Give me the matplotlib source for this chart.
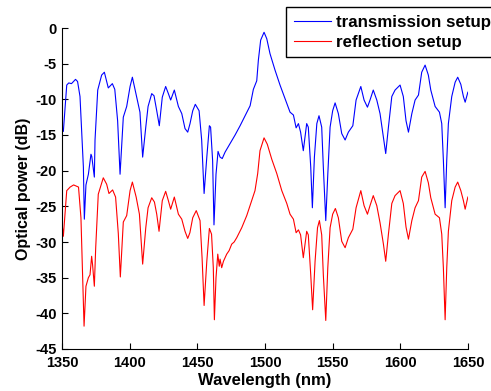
import matplotlib
matplotlib.use("Agg")
import matplotlib.pyplot as plt

# -----------------------------
# Data
# -----------------------------
wl_trans = [1350, 1351, 1353.5, 1355, 1357, 1360, 1361.5, 1363.3, 1365.8, 1366.5,
            1367.7, 1369.5, 1371.4, 1372, 1373.9, 1374.4, 1376.4, 1379.3, 1381.3, 1384.2,
            1387.2, 1389, 1391.1, 1392.9, 1395.3, 1397.8, 1400.3, 1402, 1405.2, 1407.6,
            1409.6, 1411.9, 1413.6, 1416.3, 1418, 1420, 1421.9, 1424.1, 1426.6, 1428.6,
            1430.3, 1433, 1436, 1438.5, 1440.9, 1442.9, 1444.6, 1446.6, 1448.5, 1451.3,
            1453.2, 1455, 1457, 1458.9, 1459.8, 1461.3, 1462.3, 1463.8, 1465.3, 1466.8,
            1468.4, 1470.5, 1474.2, 1477.9, 1481.6, 1485.3, 1489, 1491.4, 1493.9, 1495.1,
            1496.8, 1499.3, 1501.3, 1503.7, 1507.4, 1511.1, 1514.8, 1518.5, 1521, 1523,
            1524.7, 1526.3, 1528.3, 1530.8, 1532, 1533.8, 1535, 1536.5, 1538.3, 1539.9,
            1541.9, 1543.1, 1544.9, 1546.4, 1548.1, 1550, 1551.8, 1554.2, 1556.7, 1559.2,
            1561.6, 1564.9, 1567.3, 1570.8, 1573.2, 1575.7, 1577.6, 1580, 1582.6, 1585,
            1587.5, 1589.2, 1591.2, 1593.7, 1596.1, 1599.8, 1602.2, 1604.2, 1606, 1608.5,
            1610.9, 1613.4, 1615.8, 1618.3, 1620.7, 1622.5, 1625.7, 1628.9, 1630.6, 1631.8,
            1633.1, 1634.3, 1635.5, 1638, 1640.5, 1642.4, 1644.7, 1646.6, 1647.9, 1649.9]
p_trans = [-14.1, -14.5, -8.0, -7.7, -7.8, -7.2, -7.5, -9.6, -19.5, -26.8,
           -22, -20.5, -17.7, -18, -20.9, -15.7, -8.7, -6.6, -6.2, -8.4,
           -7.8, -8.6, -13, -20.5, -12.5, -11, -8.2, -6.9, -9.7, -11.8,
           -18.1, -13.9, -11, -9.2, -9.5, -11.6, -13.7, -9.7, -8.2, -9.2,
           -10.1, -8.7, -11, -12, -14.1, -14.6, -13.4, -11.6, -10.7, -11.6,
           -15.7, -23.2, -18.1, -13.7, -13.9, -18.6, -27.6, -20.5, -17.3, -18.1,
           -18.3, -17.4, -16.2, -15, -13.7, -12.3, -10.9, -8.6, -7.4, -4.5,
           -1.7, -0.6, -1.5, -3.6, -5.9, -8.0, -9.9, -11.8, -12.2, -14,
           -13.4, -14.6, -17.2, -13.4, -13.9, -19.5, -25.2, -18.1, -13.4, -12.3,
           -13.9, -19.5, -27, -20.5, -13.9, -11.6, -10.5, -12, -14.8, -15.7,
           -14.6, -13.7, -10.1, -8.2, -10.1, -11.1, -10.1, -8.7, -10.1, -12,
           -15.3, -17.6, -13.9, -9.6, -8.7, -8, -9.6, -13, -14.6, -12,
           -10.1, -9.4, -6.2, -5.2, -6.6, -8.7, -11, -11.8, -13.4, -18.5,
           -25.2, -18.5, -13.4, -9.6, -7.6, -6.9, -7.9, -9.6, -10.4, -9]

wl_refl = [1350, 1351, 1353.5, 1356, 1358.6, 1362.2, 1364, 1365.3, 1366.3, 1367.7,
           1369.5, 1370.7, 1371.9, 1372.6, 1373.9, 1374.9, 1376.8, 1380.5, 1383, 1384.7,
           1387.4, 1389.6, 1391.6, 1393.1, 1395.3, 1397.8, 1400.3, 1402, 1404.8, 1407.2,
           1409.6, 1411.9, 1413.6, 1416.3, 1418.3, 1420, 1421.7, 1424.1, 1426.6, 1428.6,
           1430.3, 1433, 1436, 1438.5, 1440.9, 1442.9, 1444.5, 1446.6, 1449.2, 1452,
           1453.5, 1455, 1457, 1458.9, 1460.5, 1461.8, 1462.6, 1463.8, 1465.1, 1466.2,
           1466.8, 1468, 1469.3, 1470.5, 1471.7, 1473.5, 1475.4, 1477.2, 1479.1, 1482.8,
           1486.5, 1490.2, 1492.6, 1494.6, 1496.3, 1499.3, 1501.7, 1505, 1508.7, 1512.4,
           1516.1, 1518.5, 1521, 1523, 1524.7, 1526.3, 1528.3, 1530.8, 1532, 1533.8,
           1535.2, 1537, 1538.8, 1540.2, 1541.9, 1543.1, 1544.9, 1546.4, 1548.1, 1550,
           1552, 1554.2, 1556.7, 1559.2, 1561.6, 1564.9, 1567.3, 1570.8, 1573.2, 1575.7,
           1577.6, 1580, 1582.6, 1585, 1587.5, 1589.2, 1591.2, 1593.7, 1596.1, 1599.8,
           1602.2, 1604.2, 1606, 1608.5, 1610.9, 1613.4, 1615.8, 1618.3, 1620.7, 1622.5,
           1625.7, 1628.9, 1630.6, 1631.8, 1633.1, 1634.3, 1635.5, 1638, 1640.5, 1642.4,
           1644.7, 1646.6, 1647.9, 1649.9]
p_refl = [-27.3, -29.2, -22.8, -22.3, -22, -22.3, -26.6, -35, -41.8, -36.2,
          -35, -34.6, -32, -33.2, -36.2, -30.8, -23.3, -21, -21.9, -23.2,
          -22.7, -23.7, -28.8, -34.9, -27.2, -26.3, -22.8, -21.6, -23.7, -26.1,
          -33.1, -28, -25.2, -23.8, -24.4, -26.1, -28.5, -24.2, -22.9, -24.2,
          -25.4, -23.7, -26.1, -26.8, -28.5, -29.5, -28.7, -26.6, -25.6, -27,
          -32.2, -38.9, -32.7, -28.1, -28.9, -33.6, -40.9, -35, -31.7, -33.4,
          -32.4, -33.6, -32.7, -32.2, -31.7, -31.2, -30.3, -30.0, -29.4, -28,
          -26.3, -24.2, -22.8, -20.4, -17.2, -15.4, -16.3, -18.4, -20.4, -22.8,
          -24.6, -26.1, -26.8, -28.7, -28.3, -29, -32.2, -28.5, -29, -34.6,
          -39.5, -32.7, -28, -27, -29, -34.6, -41, -33.6, -28, -26.1,
          -25.3, -26.6, -29.9, -30.8, -29.4, -28.2, -25.2, -22.8, -24.9, -26.1,
          -24.9, -23.5, -24.9, -27.3, -30.3, -32.7, -28.9, -24.6, -23.5, -22.8,
          -24.6, -27.9, -29.6, -27, -25.2, -24.2, -20.9, -20.1, -21.7, -23.8,
          -26.1, -26.6, -28.9, -33.6, -40.9, -33.6, -28.5, -24.2, -22.3, -21.6,
          -22.8, -24.2, -25.4, -23.7]

x_ticks = [1350, 1400, 1450, 1500, 1550, 1600, 1650]
y_ticks = [0, -5, -10, -15, -20, -25, -30, -35, -40, -45]

plt.rcParams['font.family'] = ['Liberation Sans', 'DejaVu Sans']
plt.rcParams['axes.unicode_minus'] = False

fig = plt.figure(figsize=(4.91, 3.91), dpi=100)
ax = fig.add_axes([62 / 491, 1 - 349 / 391, 406 / 491, 321 / 391])

ax.plot(wl_trans, p_trans, color='#0000ff', linewidth=0.8, label='transmission setup')
ax.plot(wl_refl, p_refl, color='#ff0000', linewidth=0.8, label='reflection setup')

ax.set_xlim(1350, 1650)
ax.set_ylim(-45, 0)
ax.set_xticks(x_ticks)
ax.set_yticks(y_ticks)
ax.tick_params(direction='in', length=4, width=0.8, labelsize=10.5)
ax.tick_params(axis='x', pad=5)
ax.tick_params(axis='y', pad=4)
for lbl in ax.get_xticklabels() + ax.get_yticklabels():
    lbl.set_fontweight('bold')
ax.spines['top'].set_visible(False)
ax.spines['right'].set_visible(False)
ax.set_xlabel('Wavelength (nm)', fontsize=12, fontweight='bold', labelpad=2)
ax.set_ylabel('Optical power (dB)', fontsize=11.5, fontweight='bold', labelpad=3)

# legend box runs past the right edge like the reference, text kept inside
leg = fig.legend(loc='upper left', bbox_to_anchor=(286 / 491, 1 - 7 / 391),
                 fancybox=False, edgecolor='black', framealpha=1,
                 prop={'weight': 'bold', 'size': 12.2}, handlelength=2.2,
                 borderaxespad=0, borderpad=0.45, labelspacing=0.3, handletextpad=0.3)
leg.get_frame().set_linewidth(1.0)

fig.savefig('out.png', dpi=100)
